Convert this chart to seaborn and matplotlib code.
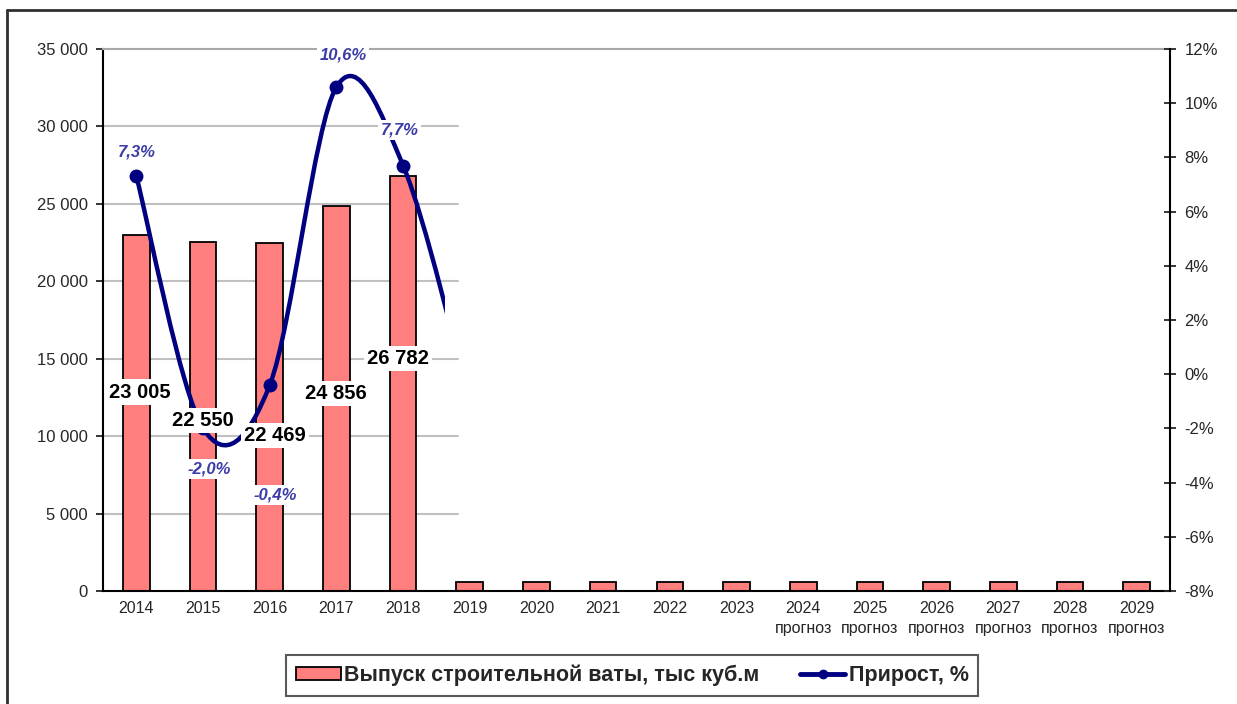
import numpy as np
import pandas as pd
import matplotlib
matplotlib.use("Agg")
import matplotlib.pyplot as plt
from matplotlib.path import Path
from matplotlib.patches import PathPatch, Rectangle, Patch
from matplotlib.lines import Line2D
import seaborn as sns

# --- данные ---
years = [str(y) for y in range(2014, 2030)]
forecast_from = 2024
output_k_m3 = [23005, 22550, 22469, 24856, 26782,
               600, 600, 600, 600, 600, 600, 600, 600, 600, 600, 600]
growth_pct = [7.3, -2.0, -0.4, 10.6, 7.7, -1.0]  # 2019 скрыт, оценка по хвосту линии
shown_bar_labels = 5
shown_pct_labels = 5

# --- подписи (позиции подобраны вручную, как в Excel) ---
bar_label_pos = [(0.05, 12850), (1.0, 10980), (2.08, 10070), (2.99, 12780), (3.92, 15040)]
pct_label_pos = [(0.0, 8.2), (1.1, -3.5), (2.08, -4.45), (3.1, 11.78), (3.95, 9.0)]

BAR = "#FF7F7F"
NAVY = "#000080"
LABEL_BLUE = "#3C3CA8"
GRID = "#C0C0C0"

sns.set_style("white")
plt.rcParams["font.family"] = ["Liberation Sans", "DejaVu Sans"]

df = pd.DataFrame({"year": years, "value": output_k_m3})
xlabels = [y + "\nпрогноз" if int(y) >= forecast_from else y for y in years]

fig = plt.figure(figsize=(12.37, 7.04), dpi=100)
ax = fig.add_axes([0.0833, 0.1605, 0.8625, 0.7699])

sns.barplot(data=df, x="year", y="value", ax=ax, color=BAR, saturation=1,
            width=0.4, edgecolor="black", linewidth=1.3, zorder=2)

ax.set_xlim(-0.5, len(years) - 0.5)
ax.set_ylim(0, 35000)
ax.set_yticks(np.arange(0, 35001, 5000))
ax.set_yticklabels([f"{int(v):,}".replace(",", " ") for v in ax.get_yticks()])
ax.set_xticks(range(len(years)))
ax.set_xticklabels(xlabels, linespacing=1.45)
ax.set_xticks(np.arange(-0.5, len(years)), minor=True)
ax.set_xlabel("")
ax.set_ylabel("")

ax.tick_params(axis="x", which="major", length=0, pad=7, labelsize=11.5)
ax.tick_params(axis="x", which="minor", direction="inout", length=9, width=1.3)
ax.tick_params(axis="y", direction="out", length=5, width=1.3, pad=6, labelsize=12)

# сетка только в левой части, как на исходнике
for v in np.arange(5000, 30001, 5000):
    ax.axhline(v, xmin=0, xmax=0.333, color=GRID, lw=1.5, zorder=1)

for s in ["left", "bottom"]:
    ax.spines[s].set_color("black")
    ax.spines[s].set_linewidth(1.5)
ax.spines["top"].set_color("#A8A8A8")
ax.spines["top"].set_linewidth(1.5)
ax.spines["right"].set_visible(False)

# --- правая ось: прирост ---
ax2 = ax.twinx()
ax2.set_ylim(-8, 12)
ax2.set_yticks(np.arange(-8, 13, 2))
ax2.set_yticklabels([f"{int(v)}%" for v in ax2.get_yticks()])
ax2.tick_params(axis="y", direction="inout", length=9, width=1.3, pad=6, labelsize=12)
for s in ["left", "bottom", "top"]:
    ax2.spines[s].set_visible(False)
ax2.spines["right"].set_color("black")
ax2.spines["right"].set_linewidth(1.5)


def smooth_path(xs, ys):
    pts = np.column_stack([xs, ys]).astype(float)
    n = len(pts)
    verts = [pts[0]]
    codes = [Path.MOVETO]
    for i in range(n - 1):
        p_prev = pts[max(i - 1, 0)]
        p0, p1 = pts[i], pts[i + 1]
        p_next = pts[min(i + 2, n - 1)]
        verts += [p0 + (p1 - p_prev) / 6, p1 - (p_next - p0) / 6, p1]
        codes += [Path.CURVE4] * 3
    return Path(verts, codes)


gx = np.arange(len(growth_pct))
clip = Rectangle((0, 0), 0.3205, 1, transform=ax2.transAxes)
curve = PathPatch(smooth_path(gx, growth_pct), facecolor="none", edgecolor=NAVY,
                  lw=3.2, zorder=3)
ax2.add_patch(curve)
curve.set_clip_path(clip)
(marks,) = ax2.plot(gx, growth_pct, "o", ms=9, color=NAVY, zorder=4)
marks.set_clip_path(clip)

box = dict(boxstyle="square,pad=0.15", facecolor="white", edgecolor="none")
for v, (x, y) in zip(output_k_m3[:shown_bar_labels], bar_label_pos):
    ax2.text(x, y, f"{v:,}".replace(",", " "), transform=ax.transData,
             ha="center", va="center", fontsize=14.5, fontweight="bold",
             color="black", bbox=box, zorder=6)
for v, (x, y) in zip(growth_pct[:shown_pct_labels], pct_label_pos):
    ax2.text(x, y, f"{v:.1f}%".replace(".", ","), ha="center", va="center",
             fontsize=12, fontweight="bold", fontstyle="italic",
             color=LABEL_BLUE, bbox=box, zorder=6)

# --- легенда ---
handles = [Patch(facecolor=BAR, edgecolor="black", linewidth=1.3),
           Line2D([], [], color=NAVY, lw=3.5, marker="o", ms=6)]
leg = fig.legend(handles, ["Выпуск строительной ваты, тыс куб.м", "Прирост, %"],
                 loc="center", bbox_to_anchor=(0.511, 0.041), ncol=2,
                 frameon=True, fancybox=False, edgecolor="#303030",
                 prop={"size": 15.5, "weight": "bold"}, handlelength=2.1,
                 handleheight=0.55, handletextpad=0.15, columnspacing=1.9,
                 borderpad=0.45, borderaxespad=0)
leg.get_frame().set_linewidth(1.5)

# рамка всей диаграммы
fig.add_artist(Line2D([0.0057, 1], [0.9858, 0.9858], color="#303030", lw=2))
fig.add_artist(Line2D([0.0057, 0.0057], [0, 0.9858], color="#303030", lw=2))

fig.savefig("out.png", dpi=100)
